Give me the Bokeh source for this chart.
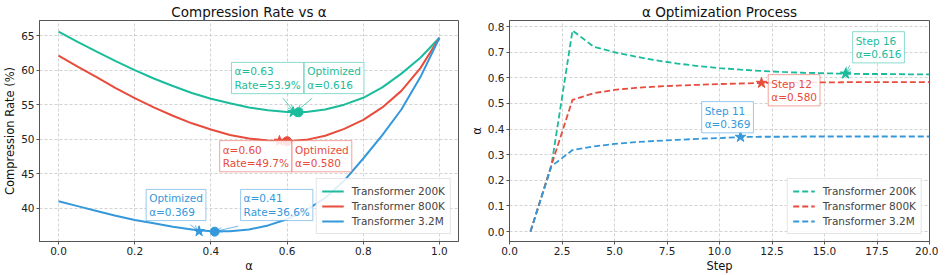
from bokeh.plotting import figure
from bokeh.layouts import row
from bokeh.models import (Label, Arrow, OpenHead, Range1d, FixedTicker,
                          NumeralTickFormatter, Legend, LegendItem)
from bokeh.embed import file_html
from bokeh.resources import INLINE

# ---------------- data ----------------
names = ["Transformer 200K", "Transformer 800K", "Transformer 3.2M"]
colors = ["#1abc9c", "#e74c3c", "#3498db"]

alpha_grid = [0.00, 0.05, 0.10, 0.15, 0.20, 0.25, 0.30, 0.35, 0.40, 0.45, 0.50,
              0.55, 0.60, 0.65, 0.70, 0.75, 0.80, 0.85, 0.90, 0.95, 1.00]
rate_200k = [65.6, 64.1, 62.7, 61.3, 60.0, 58.8, 57.7, 56.7, 55.85, 55.2, 54.6,
             54.2, 53.95, 53.95, 54.3, 55.0, 56.0, 57.5, 59.5, 61.8, 64.7]
rate_800k = [62.1, 60.5, 59.0, 57.4, 55.95, 54.6, 53.4, 52.3, 51.4, 50.6, 50.1,
             49.8, 49.7, 49.9, 50.5, 51.5, 52.8, 54.6, 57.0, 60.3, 64.7]
rate_3m2 = [41.0, 40.3, 39.6, 38.9, 38.3, 37.8, 37.3, 36.9, 36.65, 36.65, 36.9,
            37.5, 38.4, 39.7, 41.5, 44.0, 47.2, 50.6, 54.3, 59.0, 64.7]
rates = [rate_200k, rate_800k, rate_3m2]

best_alpha = [0.63, 0.60, 0.41]
best_rate = [53.9, 49.7, 36.6]
opt_alpha = [0.616, 0.580, 0.369]
opt_rate = [53.92, 49.75, 36.65]

steps = list(range(1, 21))
hist_200k = [0.0, 0.26, 0.785, 0.722, 0.700, 0.683, 0.668, 0.656, 0.646, 0.638,
             0.632, 0.627, 0.623, 0.620, 0.618, 0.616, 0.615, 0.615, 0.614, 0.614]
hist_800k = [0.0, 0.26, 0.514, 0.540, 0.553, 0.561, 0.566, 0.570, 0.573, 0.576,
             0.578, 0.580, 0.581, 0.582, 0.582, 0.583, 0.583, 0.583, 0.583, 0.583]
hist_3m2 = [0.0, 0.255, 0.318, 0.332, 0.342, 0.349, 0.354, 0.358, 0.362, 0.365,
            0.369, 0.370, 0.370, 0.371, 0.371, 0.371, 0.371, 0.371, 0.371, 0.371]
hists = [hist_200k, hist_800k, hist_3m2]
opt_step = [16, 12, 11]

left_xticks = [0.0, 0.2, 0.4, 0.6, 0.8, 1.0]
left_yticks = [40, 45, 50, 55, 60, 65]
right_xticks = [0.0, 2.5, 5.0, 7.5, 10.0, 12.5, 15.0, 17.5, 20.0]
right_yticks = [0.0, 0.1, 0.2, 0.3, 0.4, 0.5, 0.6, 0.7, 0.8]

FONT = "DejaVu Sans"


def style(p):
    p.title.text_font = FONT
    p.title.text_font_size = "13.5px"
    p.title.text_font_style = "normal"
    p.title.align = "center"
    p.title.standoff = 2
    p.title.text_color = "#111111"
    for ax in p.axis:
        ax.major_label_text_font = FONT
        ax.major_label_text_font_size = "10.5px"
        ax.major_label_text_color = "#222222"
        ax.axis_label_text_font = FONT
        ax.axis_label_text_font_size = "11.5px"
        ax.axis_label_text_font_style = "normal"
        ax.axis_label_text_color = "#111111"
        ax.major_tick_out = 3
        ax.major_tick_in = 0
        ax.minor_tick_out = 0
        ax.minor_tick_in = 0
        ax.axis_line_color = "#555555"
        ax.major_tick_line_color = "#555555"
        ax.major_label_standoff = 2
        ax.axis_label_standoff = 1
    for g in p.grid:
        g.grid_line_color = "#c8c8c8"
        g.grid_line_dash = "3 2"
        g.grid_line_width = 0.8
    p.outline_line_color = "#555555"
    p.outline_line_width = 1
    p.outline_line_alpha = 1


def style_legend(lg):
    lg.location = "bottom_right"
    lg.label_text_font = FONT
    lg.label_text_font_size = "10.5px"
    lg.glyph_width = 22
    lg.glyph_height = 14
    lg.label_height = 14
    lg.label_standoff = 8
    lg.spacing = 1
    lg.padding = 5
    lg.margin = 7
    lg.border_line_color = "#cccccc"
    lg.background_fill_alpha = 0.85


def box_label(p, x, y, text, color):
    lab = Label(x=x, y=y, text=text, text_color=color, text_font=FONT,
                text_font_size="10.5px", text_align="left", text_baseline="bottom",
                text_line_height=1.1, background_fill_color="white",
                background_fill_alpha=0.85, border_line_color=color,
                border_line_alpha=0.5, border_line_width=1, padding=3)
    p.add_layout(lab)


def arrow(p, x0, y0, x1, y1, color):
    p.add_layout(Arrow(end=OpenHead(size=5, line_color=color, line_width=1, line_alpha=0.7),
                       x_start=x0, y_start=y0, x_end=x1, y_end=y1,
                       line_color=color, line_width=1, line_alpha=0.7))


# ---------------- left figure ----------------
p1 = figure(frame_width=419, frame_height=221, output_backend="svg", toolbar_location=None,
            title="Compression Rate vs α",
            x_range=Range1d(-0.05, 1.05), y_range=Range1d(35.17, 67.2))
p1.min_border_left = 2
p1.min_border_right = 8
p1.min_border_top = 2
p1.min_border_bottom = 2
p1.xaxis.axis_label = "α"
p1.yaxis.axis_label = "Compression Rate (%)"
p1.xaxis.ticker = FixedTicker(ticks=left_xticks)
p1.yaxis.ticker = FixedTicker(ticks=left_yticks)
p1.xaxis.formatter = NumeralTickFormatter(format="0.0")
style(p1)

items1 = []
for name, c, r in zip(names, colors, rates):
    ln = p1.line(alpha_grid, r, line_color=c, line_width=2)
    items1.append(LegendItem(label=name, renderers=[ln]))
for c, a, r in zip(colors, opt_alpha, opt_rate):
    p1.scatter([a], [r], marker="star", size=11, fill_color=c, line_color=c)
for c, a, r in zip(colors, best_alpha, best_rate):
    p1.scatter([a], [r], marker="circle", size=9, fill_color=c, line_color=c)

lg1 = Legend(items=items1)
style_legend(lg1)
p1.add_layout(lg1)

# annotations (left)
g, rd, b = colors
box_label(p1, 0.454, 56.6, f"α={best_alpha[0]:.2f}\nRate={best_rate[0]:.1f}%", g)
box_label(p1, 0.645, 56.6, f"Optimized\nα={opt_alpha[0]:.3f}", g)
arrow(p1, 0.589, 55.95, 0.615, 54.2, g)
arrow(p1, 0.666, 55.95, 0.628, 54.2, g)

box_label(p1, 0.423, 45.27, f"α={best_alpha[1]:.2f}\nRate={best_rate[1]:.1f}%", rd)
box_label(p1, 0.613, 45.27, f"Optimized\nα={opt_alpha[1]:.3f}", rd)

box_label(p1, 0.230, 38.2, f"Optimized\nα={opt_alpha[2]:.3f}", b)
box_label(p1, 0.478, 38.2, f"α={best_alpha[2]:.2f}\nRate={best_rate[2]:.1f}%", b)
arrow(p1, 0.346, 37.6, 0.365, 36.8, b)
arrow(p1, 0.472, 37.4, 0.416, 36.7, b)

# ---------------- right figure ----------------
p2 = figure(frame_width=420, frame_height=221, output_backend="svg", toolbar_location=None,
            title="α Optimization Process",
            x_range=Range1d(0, 20), y_range=Range1d(-0.039, 0.824))
p2.min_border_left = 2
p2.min_border_right = 9
p2.min_border_top = 2
p2.min_border_bottom = 2
p2.xaxis.axis_label = "Step"
p2.yaxis.axis_label = "α"
p2.xaxis.ticker = FixedTicker(ticks=right_xticks)
p2.yaxis.ticker = FixedTicker(ticks=right_yticks)
p2.xaxis.formatter = NumeralTickFormatter(format="0.0")
p2.yaxis.formatter = NumeralTickFormatter(format="0.0")
style(p2)

items2 = []
for name, c, h in zip(names, colors, hists):
    ln = p2.line(steps, h, line_color=c, line_width=1.8, line_dash="6 3")
    items2.append(LegendItem(label=name, renderers=[ln]))
for c, s, a in zip(colors, opt_step, opt_alpha):
    p2.scatter([s], [a], marker="star", size=11, fill_color=c, line_color=c)

lg2 = Legend(items=items2)
style_legend(lg2)
p2.add_layout(lg2)

box_label(p2, 16.34, 0.6585, f"Step {opt_step[0]}\nα={opt_alpha[0]:.3f}", g)
arrow(p2, 16.2, 0.649, 16.05, 0.622, g)
box_label(p2, 12.32, 0.4907, f"Step {opt_step[1]}\nα={opt_alpha[1]:.3f}", rd)
box_label(p2, 9.15, 0.3854, f"Step {opt_step[2]}\nα={opt_alpha[2]:.3f}", b)

layout = row(p1, p2)
open("out.html", "w").write(file_html(layout, INLINE))
